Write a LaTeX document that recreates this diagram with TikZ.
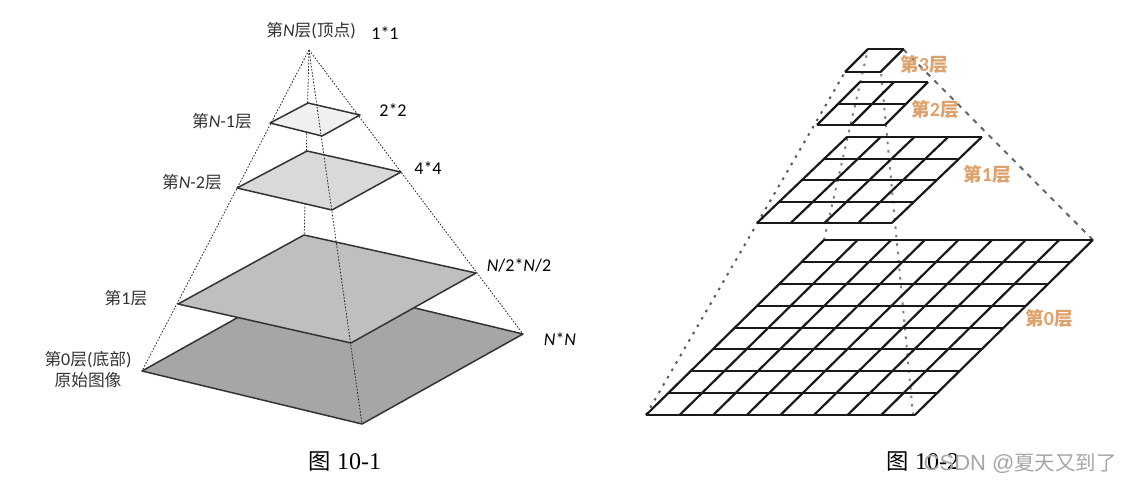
\documentclass[tikz,border=0pt]{standalone}
\usepackage{fontspec}
\setmainfont{Carlito}
\newfontfamily\cjk{Noto Sans CJK SC}[Scale=0.93]
\newfontfamily\capfont{Liberation Serif}
\newfontfamily\markfont{Liberation Sans}
\newcommand{\cj}[1]{{\cjk #1}}
\definecolor{labelorange}{HTML}{DDA26C}
\tikzset{
  lab/.style={font=\fontsize{18}{21}\selectfont, text=black!80, inner sep=0pt, align=center},
  capt/.style={font=\fontsize{24}{28}\selectfont\capfont, text=black, inner sep=0pt},
  orangelab/.style={font=\fontsize{20}{24}\selectfont\bfseries, text=labelorange, inner sep=0pt},
  plane/.style={draw=black!80, line width=1.5pt, line join=round},
  thindot/.style={draw=black!85, line width=0.8pt, dash pattern=on 1.6pt off 1.6pt},
  griddot/.style={draw=black!65, line width=2pt, dash pattern=on 2.5pt off 6pt},
  griddash/.style={draw=black!60, line width=2pt, dash pattern=on 5pt off 6pt},
  gridline/.style={draw=black!90, line width=2.2pt, line join=round}
}
\newcommand{\gridplane}[5]{%
  % #1 BL x, #2 TL x, #3 top y, #4 bottom y, #5 cell width, n cells = \gridn
  \foreach \i in {0,...,\gridn}{
    \pgfmathsetmacro{\xa}{#1+\i*#5}
    \pgfmathsetmacro{\xb}{#2+\i*#5}
    \draw[gridline] (\xa,#4) -- (\xb,#3);
    \pgfmathsetmacro{\fy}{\i/\gridn}
    \pgfmathsetmacro{\lx}{#1+(#2-#1)*\fy}
    \pgfmathsetmacro{\rx}{\lx+\gridn*#5}
    \pgfmathsetmacro{\yy}{round(#4+(#3-#4)*\fy)}
    \draw[gridline] (\lx,\yy) -- (\rx,\yy);
  }}
\begin{document}
\begin{tikzpicture}[x=1pt,y=-1pt]
\useasboundingbox (0,0) rectangle (1122,485);
% left pyramid
\coordinate (apex) at (309,50);
\coordinate (b0L) at (142,371); \coordinate (b0T) at (303,281); \coordinate (b0R) at (523,334); \coordinate (b0B) at (362,424);
\coordinate (b1L) at (178,304); \coordinate (b1T) at (304,235); \coordinate (b1R) at (476,273); \coordinate (b1B) at (351,343);
\coordinate (b2L) at (237,188); \coordinate (b2T) at (307,151); \coordinate (b2R) at (401,172); \coordinate (b2B) at (332,210);
\coordinate (b3L) at (270,123); \coordinate (b3T) at (308,103); \coordinate (b3R) at (360,115); \coordinate (b3B) at (322,136);
\draw[thindot] (apex) -- (b0T);
\draw[plane, fill=black!35] (b0L) -- (b0T) -- (b0R) -- (b0B) -- cycle;
\draw[plane, fill=black!25] (b1L) -- (b1T) -- (b1R) -- (b1B) -- cycle;
\draw[plane, fill=black!15] (b2L) -- (b2T) -- (b2R) -- (b2B) -- cycle;
\draw[plane, fill=black!6] (b3L) -- (b3T) -- (b3R) -- (b3B) -- cycle;
\draw[thindot] (apex) -- (b0L);
\draw[thindot] (apex) -- (b0R);
\draw[thindot] (apex) -- (b0B);
% left labels
\node[lab] (n1) at (311,31) {\cj{第}\textit{N}\cj{层}(\cj{顶点})};
\node[lab,text=black] (s1) at (385,33) {1*1};
\node[lab] (n2) at (222,121) {\cj{第}\textit{N}-1\cj{层}};
\node[lab,text=black] (s2) at (393,110) {2*2};
\node[lab] (n3) at (192,182) {\cj{第}\textit{N}-2\cj{层}};
\node[lab,text=black] (s3) at (428,168) {4*4};
\node[lab] (n4) at (126,298) {\cj{第}1\cj{层}};
\node[lab,text=black] (s4) at (519,265) {\textit{N}/2*\textit{N}/2};
\node[lab] (n5) at (88,370) {\cj{第}0\cj{层}(\cj{底部})\\\cj{原始图像}};
\node[lab,text=black] (s5) at (560,339) {\textit{N}*\textit{N}};
\node[capt] (c1) at (345,462) {{\cjk 图} 10-1};
% right pyramid
\coordinate (g0BL) at (646,415); \coordinate (g0TL) at (824,240); \coordinate (g0TR) at (1093,240); \coordinate (g0BR) at (913,415);
\coordinate (g3BL) at (845,72); \coordinate (g3TL) at (868,49); \coordinate (g3TR) at (903,49); \coordinate (g3BR) at (881,72);
\draw[griddot] (g0BL) -- (g3BL);
\draw[griddash] (g0TR) -- (g3TR);
\draw[griddot,draw=black!50] (g0TL) -- (g3TL);
\draw[griddot,draw=black!50] (g0BR) -- (g3BR);
\def\gridn{1}\gridplane{845}{868}{49}{72}{35.5}
\def\gridn{2}\gridplane{817}{860}{82}{125}{34}
\def\gridn{4}\gridplane{757}{847}{137}{223}{33.7}
\def\gridn{8}\gridplane{646}{824}{240}{415}{33.6}
\node[orangelab] (o3) at (924,64) {\cj{第}3\cj{层}};
\node[orangelab] (o2) at (935,109) {\cj{第}2\cj{层}};
\node[orangelab] (o1) at (987,174) {\cj{第}1\cj{层}};
\node[orangelab] (o0) at (1049,318) {\cj{第}0\cj{层}};
\node[capt] (c2) at (923,462) {{\cjk 图} 10-2};
\node[anchor=east, inner sep=0pt, text=black!35, font=\fontsize{22}{26}\selectfont\markfont] (wm) at (1117,464) {CSDN @{\cjk 夏天又到了}};
\end{tikzpicture}
\end{document}
